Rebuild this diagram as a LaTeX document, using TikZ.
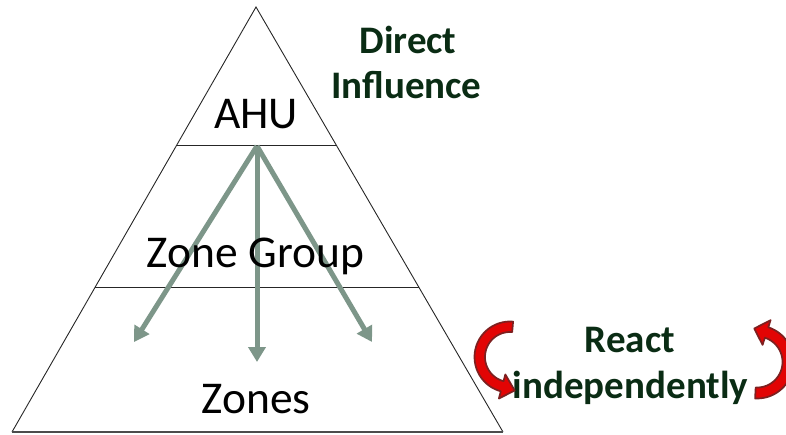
\documentclass[tikz,border=0pt]{standalone}
\usepackage{fontspec}
\setmainfont{Carlito}
\usetikzlibrary{arrows.meta,calc}
\definecolor{inflc}{RGB}{125,150,137}
\definecolor{dgreen}{RGB}{10,44,20}
\definecolor{rfill}{RGB}{226,4,4}
\definecolor{redge}{RGB}{125,32,32}
\begin{document}
\begin{tikzpicture}[x=1pt,y=-1pt,
  triline/.style={draw=black!85, line width=0.9pt, line join=miter},
  baseline/.style={draw=black!70, line width=1.8pt},
  lvl/.style={font=\fontsize{45.5}{54}\selectfont, anchor=base, inner sep=0pt},
  note/.style={font=\fontsize{39}{46}\selectfont\bfseries, text=dgreen, anchor=base, inner sep=0pt},
  inflarrow/.style={draw=inflc, line width=5pt, -{Triangle[width=17pt,length=15pt]}},
  curl/.style={fill=rfill, draw=redge, line width=1.7pt, line join=round}]
\useasboundingbox (0,0) rectangle (786,434);
% pyramid
\coordinate (apex) at (256,7);
\coordinate (bl) at (12,432);
\coordinate (br) at (503,432);
\coordinate (l1) at (176.8,145);
\coordinate (r1) at (336.2,145);
\coordinate (l2) at (95.2,287);
\coordinate (r2) at (418.7,287);
\draw[triline] (bl) -- (apex) -- (br);
\draw[baseline] (bl) -- (br);
\draw[triline] (l1) -- (r1);
\draw[triline] (l2) -- (r2);
% influence arrows
\coordinate (src) at (257,146);
\coordinate (tl) at (134,342);
\coordinate (tm) at (257,362);
\coordinate (tr) at (372,342);
\draw[inflarrow] (src) -- (tl);
\draw[inflarrow] (src) -- (tm);
\draw[inflarrow] (src) -- (tr);
% level labels
\node[lvl] (ahu) at (256,128) {AHU};
\node[lvl] (zg) at (255.5,267) {Zone Group};
\node[lvl] (zones) at (256,413) {Zones};
% notes
\node[note] (di1) at (408,53) {Direct};
\node[note] (di2) at (406.5,98) {Influence};
\node[note] (ri1) at (630,352) {React};
\node[note] (ri2) at (630.5,398) {independently};
% curled arrows
\draw[curl] plot[domain=-85:-255,samples=40] ({510+35.5*cos(\x)},{357+35.5*sin(\x)})
  -- ({510+43*cos(-255)},{357+43*sin(-255)}) -- (514.7,390.5)
  -- ({510+18*cos(-255)},{357+18*sin(-255)})
  -- plot[domain=-255:-85,samples=40] ({510+25*cos(\x)},{357+25*sin(\x)}) -- cycle;
\draw[curl] plot[domain=93:-72,samples=40] ({757+36.5*cos(\x)},{362+36.5*sin(\x)})
  -- ({757+44*cos(-72)},{362+44*sin(-72)}) -- (754.2,328.5)
  -- ({757+18*cos(-72)},{362+18*sin(-72)})
  -- plot[domain=-72:93,samples=40] ({757+25.5*cos(\x)},{362+25.5*sin(\x)}) -- cycle;
\end{tikzpicture}
\end{document}
